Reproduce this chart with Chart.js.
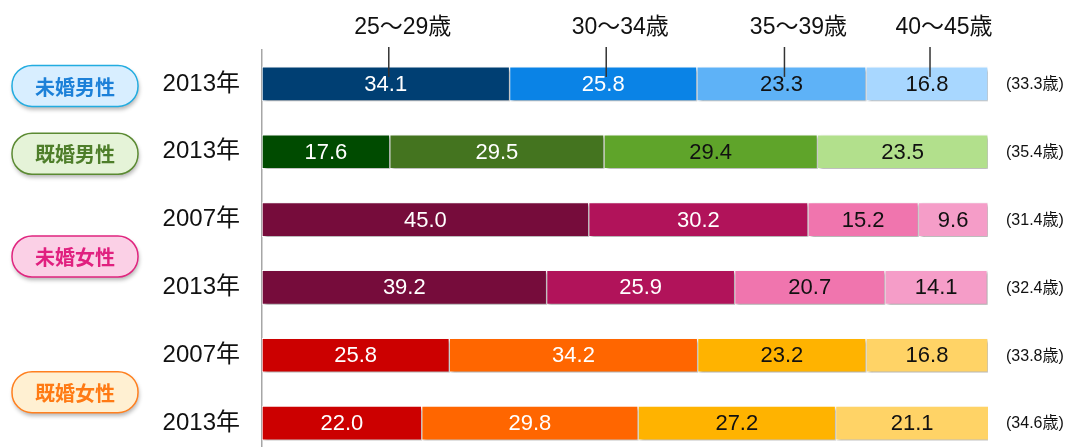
<!DOCTYPE html>
<html><head><meta charset="utf-8">
<script src="https://cdn.jsdelivr.net/npm/chart.js@4/dist/chart.umd.min.js"></script>
<style>html,body{margin:0;padding:0;background:#fff;overflow:hidden;}#wrap{position:absolute;left:0;top:0;width:1073px;height:457px;}</style>
</head><body><div id="wrap"><canvas id="c" width="1073" height="457"></canvas></div>
<script>
const rowLabels = ['2013年','2013年','2007年','2013年','2007年','2013年'];
const ageGroups = ['25～29歳','30～34歳','35～39歳','40～45歳'];
const age25_29 = [34.1,17.6,45.0,39.2,25.8,22.0];
const age30_34 = [25.8,29.5,30.2,25.9,34.2,29.8];
const age35_39 = [23.3,29.4,15.2,20.7,23.2,27.2];
const age40_45 = [16.8,23.5,9.6,14.1,16.8,21.1];
const avgAge = [33.3,35.4,31.4,32.4,33.8,34.6];
const groupNames = ['未婚男性','既婚男性','未婚女性','既婚女性'];
const groupFirstRow = [0,1,2,4];
const groupLastRow = [0,1,3,5];

const FONT = "'Liberation Sans','Noto Sans CJK JP',sans-serif";
const rowPalettes = [
  ['#003F73','#0A83E6','#5EB2F7','#A8D7FF'],
  ['#004B00','#44741F','#5FA42A','#B2E08C'],
  ['#760C3B','#B1135A','#F075AE','#F59DC8'],
  ['#760C3B','#B1135A','#F075AE','#F59DC8'],
  ['#CC0000','#FF6600','#FFB300','#FFD366'],
  ['#CC0000','#FF6600','#FFB300','#FFD366']
];
const badgeStyles = [
  {fill:'#D8EEFF', stroke:'#22ACE0', text:'#1C80D8'},
  {fill:'#E5F3D8', stroke:'#5B8A32', text:'#4E7E2A'},
  {fill:'#FBD0E6', stroke:'#E0257F', text:'#E0207F'},
  {fill:'#FFF0D2', stroke:'#FF8020', text:'#FF7A14'}
];
const labelColors = ['#FFFFFF','#FFFFFF','#111111','#111111'];
const seriesValues = [age25_29, age30_34, age35_39, age40_45];

const datasets = seriesValues.map((vals, i) => ({
  label: ageGroups[i],
  data: vals,
  backgroundColor: rowPalettes.map(p => p[i]),
  borderColor: '#FFFFFF',
  borderWidth: 1,
  borderSkipped: false,
  barThickness: 34
}));

function roundRect(ctx, x, y, w, h, r) {
  ctx.beginPath();
  ctx.moveTo(x + r, y);
  ctx.lineTo(x + w - r, y);
  ctx.arc(x + w - r, y + r, r, -Math.PI/2, 0);
  ctx.lineTo(x + w, y + h - r);
  ctx.arc(x + w - r, y + h - r, r, 0, Math.PI/2);
  ctx.lineTo(x + r, y + h);
  ctx.arc(x + r, y + h - r, r, Math.PI/2, Math.PI);
  ctx.lineTo(x, y + r);
  ctx.arc(x + r, y + r, r, Math.PI, Math.PI*1.5);
  ctx.closePath();
}

const decor = {
  id: 'decor',
  beforeDatasetsDraw(chart) {
    const ctx = chart.ctx;
    ctx.save();
    ctx.shadowColor = 'rgba(0,0,0,0.35)';
    ctx.shadowOffsetX = 2;
    ctx.shadowOffsetY = 2;
    ctx.shadowBlur = 3;
  },
  afterDatasetsDraw(chart) {
    const ctx = chart.ctx;
    ctx.restore();
    ctx.save();
    ctx.textAlign = 'center';
    ctx.textBaseline = 'middle';
    ctx.font = '22px ' + FONT;
    chart.data.datasets.forEach((ds, di) => {
      const meta = chart.getDatasetMeta(di);
      meta.data.forEach((el, ri) => {
        const cx = (el.x + el.base) / 2;
        ctx.fillStyle = labelColors[di];
        ctx.fillText(ds.data[ri].toFixed(1), cx, el.y + 1);
      });
    });
    ctx.restore();
  },
  afterDraw(chart) {
    const ctx = chart.ctx;
    const area = chart.chartArea;
    const xs = chart.scales.x;
    ctx.save();
    // top category labels with leader lines (row 0)
    let cum = 0;
    const meta0 = chart.getDatasetMeta(0).data[0];
    seriesValues.forEach((vals, i) => {
      const mid = xs.getPixelForValue(cum + vals[0] / 2) + 3;
      cum += vals[0];
      ctx.strokeStyle = '#333333';
      ctx.lineWidth = 1.5;
      ctx.beginPath();
      ctx.moveTo(mid, 47);
      ctx.lineTo(mid, meta0.y - 7);
      ctx.stroke();
      ctx.fillStyle = '#111111';
      ctx.font = '23px ' + FONT;
      ctx.textAlign = 'center';
      ctx.textBaseline = 'middle';
      ctx.fillText(ageGroups[i], mid + 14, 28);
    });
    // average age labels on right
    ctx.font = '16px ' + FONT;
    ctx.textAlign = 'left';
    ctx.textBaseline = 'middle';
    ctx.fillStyle = '#111111';
    chart.getDatasetMeta(0).data.forEach((el, ri) => {
      ctx.fillText('(' + avgAge[ri].toFixed(1) + '歳)', area.right + 18, el.y + 1);
    });
    // group badges
    const ys = chart.scales.y;
    groupNames.forEach((name, gi) => {
      const y1 = ys.getPixelForValue(groupFirstRow[gi]);
      const y2 = ys.getPixelForValue(groupLastRow[gi]);
      const cy = (y1 + y2) / 2 + (groupFirstRow[gi] === groupLastRow[gi] ? 2 : 3);
      const st = badgeStyles[gi];
      const x = 12, w = 126, h = 41, y = cy - h / 2;
      ctx.save();
      ctx.shadowColor = 'rgba(0,0,0,0.3)';
      ctx.shadowOffsetX = 1;
      ctx.shadowOffsetY = 3;
      ctx.shadowBlur = 4;
      roundRect(ctx, x, y, w, h, 20);
      ctx.fillStyle = st.fill;
      ctx.fill();
      ctx.restore();
      roundRect(ctx, x, y, w, h, 20);
      ctx.strokeStyle = st.stroke;
      ctx.lineWidth = 1.5;
      ctx.stroke();
      ctx.fillStyle = st.text;
      ctx.font = "bold 20px 'Noto Sans CJK JP', sans-serif";
      ctx.textAlign = 'center';
      ctx.textBaseline = 'middle';
      ctx.fillText(name, x + w / 2, cy + 1);
    });
    ctx.restore();
  }
};

new Chart(document.getElementById('c'), {
  type: 'bar',
  data: { labels: rowLabels, datasets: datasets },
  options: {
    indexAxis: 'y',
    responsive: false,
    animation: false,
    layout: { padding: { top: 50, right: 85, left: 0, bottom: 0 } },
    plugins: { legend: { display: false }, tooltip: { enabled: false } },
    scales: {
      x: { stacked: true, min: 0, max: 100, display: false },
      y: {
        stacked: true,
        grid: { display: false, drawTicks: false },
        border: { display: true, color: '#A6A6A6', width: 1.5 },
        ticks: { color: '#111111', font: { size: 24, family: FONT }, padding: 22 },
        afterFit(s) { s.width = 262; s.paddingTop = 0; s.paddingBottom = 0; }
      }
    }
  },
  plugins: [decor]
});
</script>
</body></html>
